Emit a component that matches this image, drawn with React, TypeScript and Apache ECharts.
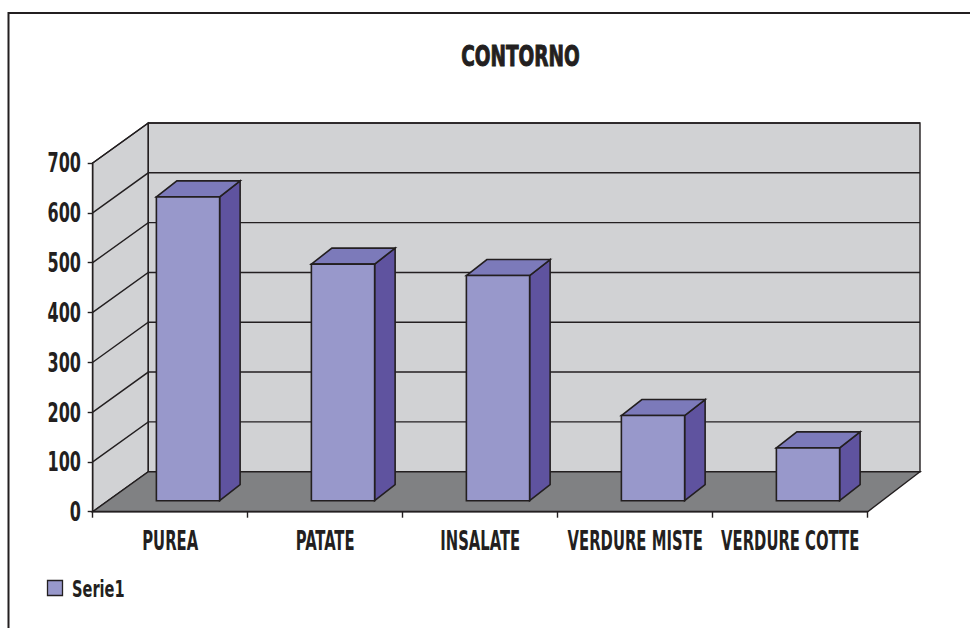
import React, { useEffect, useRef } from "react";
import * as echarts from "echarts";

const chartTitle = "CONTORNO";
const seriesName = "Serie1";
const categories = ["PUREA", "PATATE", "INSALATE", "VERDURE MISTE", "VERDURE COTTE"];
const values = [610, 475, 452, 171, 106];
const yTicks = [0, 100, 200, 300, 400, 500, 600, 700];

const FONT = "'DejaVu Sans Condensed', 'DejaVu Sans', sans-serif";
const INK = "#231F20";
const WALL = "#D1D2D4";
const FLOOR = "#808183";
const BAR_FRONT = "#9898CB";
const BAR_TOP = "#7C7ABA";
const BAR_SIDE = "#5F539F";

const DEPTH_X_LEFT = 55.6;
const DEPTH_X_RIGHT = 52.3;
const DEPTH_Y = -40;
const BAR_OFF_X = 17.8;
const BAR_OFF_Y = -11;
const BAR_DX = 20.5;
const BAR_DY = -16;
const BAR_FRAC = 0.408;

const LABEL_FONT_SIZE = 27;
const LABEL_SCALE = 0.61;
const YLABEL_SCALE = 0.66;

function scaledText(text: string, x: number, y: number, align: string, size: number, scale: number, weight = "bold", extra: any = {}) {
  return {
    type: "text",
    x,
    y,
    scaleX: scale,
    scaleY: 1,
    originX: 0,
    originY: 0,
    style: {
      text,
      x: 0,
      y: 0,
      fontFamily: FONT,
      fontSize: size,
      fontWeight: weight,
      fill: INK,
      align,
      verticalAlign: "middle",
      ...extra,
    },
  };
}

export default function App() {
  const ref = useRef<HTMLDivElement>(null);

  useEffect(() => {
    const chart = echarts.init(ref.current as HTMLDivElement, null, { renderer: "svg" });
    const yMin = yTicks[0];
    const yMax = yTicks[yTicks.length - 1];
    const yStep = yTicks[1] - yTicks[0];

    const wallsRender = (params: any, api: any) => {
      const cs = params.coordSys;
      const x0 = cs.x;
      const x1 = cs.x + cs.width;
      const yBot = api.coord([0, yMin])[1];
      const yTop = api.coord([0, yMax])[1];
      const bl = x0 + DEPTH_X_LEFT;
      const br = x1 + DEPTH_X_RIGHT;
      const stroke = { stroke: INK, lineWidth: 1.4 };
      const children: any[] = [
        {
          type: "polygon",
          shape: { points: [[x0, yTop], [bl, yTop + DEPTH_Y], [bl, yBot + DEPTH_Y], [x0, yBot]] },
          style: { fill: WALL, ...stroke },
        },
        {
          type: "polygon",
          shape: { points: [[bl, yTop + DEPTH_Y], [br, yTop + DEPTH_Y], [br, yBot + DEPTH_Y], [bl, yBot + DEPTH_Y]] },
          style: { fill: WALL, ...stroke },
        },
      ];
      yTicks.forEach((t) => {
        const y = api.coord([0, t])[1];
        if (t !== yMin) {
          children.push({
            type: "polyline",
            shape: { points: [[x0, y], [bl, y + DEPTH_Y], [br, y + DEPTH_Y]] },
            style: { fill: "none", ...stroke },
          });
        }
        children.push(scaledText(String(t), x0 - 11.7, y, "right", LABEL_FONT_SIZE, YLABEL_SCALE));
      });
      children.push({
        type: "polygon",
        shape: { points: [[x0, yBot], [bl, yBot + DEPTH_Y], [br, yBot + DEPTH_Y], [x1, yBot]] },
        style: { fill: FLOOR, ...stroke },
      });
      return { type: "group", children };
    };

    const barRender = (params: any, api: any) => {
      const i = api.value(0);
      const v = api.value(1);
      const base = api.coord([i, 0]);
      const top = api.coord([i, v]);
      const bw = api.size([1, 0])[0] * BAR_FRAC;
      const cx = base[0] + BAR_OFF_X;
      const l = cx - bw / 2;
      const r = cx + bw / 2;
      const yb = base[1] + BAR_OFF_Y;
      const yt = top[1] + BAR_OFF_Y;
      const st = { stroke: INK, lineWidth: 1.6, lineJoin: "miter" };
      return {
        type: "group",
        children: [
          {
            type: "polygon",
            shape: { points: [[r, yt], [r + BAR_DX, yt + BAR_DY], [r + BAR_DX, yb + BAR_DY], [r, yb]] },
            style: { fill: BAR_SIDE, ...st },
          },
          {
            type: "polygon",
            shape: { points: [[l, yt], [l + BAR_DX, yt + BAR_DY], [r + BAR_DX, yt + BAR_DY], [r, yt]] },
            style: { fill: BAR_TOP, ...st },
          },
          {
            type: "polygon",
            shape: { points: [[l, yt], [r, yt], [r, yb], [l, yb]] },
            style: { fill: BAR_FRONT, ...st },
          },
        ],
      };
    };

    const catLabelRender = (params: any, api: any) => {
      const i = api.value(0);
      const p = api.coord([i, 0]);
      return scaledText(categories[i], p[0], p[1] + 28.3, "center", LABEL_FONT_SIZE, LABEL_SCALE);
    };

    chart.setOption({
      animation: false,
      backgroundColor: "#ffffff",
      textStyle: { fontFamily: FONT },
      grid: { left: 92.7, top: 163, width: 775, height: 348.7, containLabel: false },
      xAxis: {
        type: "category",
        data: categories,
        z: 10,
        axisLine: { show: true, lineStyle: { color: INK, width: 1.4 } },
        axisTick: { show: true, length: 6, lineStyle: { color: INK, width: 1.4 } },
        axisLabel: { show: false },
        splitLine: { show: false },
      },
      yAxis: {
        type: "value",
        min: yMin,
        max: yMax,
        interval: yStep,
        z: 10,
        axisLine: { show: true, lineStyle: { color: INK, width: 1.4 } },
        axisTick: { show: true, length: 5, lineStyle: { color: INK, width: 1.4 } },
        axisLabel: { show: false },
        splitLine: { show: false },
      },
      graphic: [
        {
          type: "rect",
          shape: { x: 8.5, y: 13, width: 1000, height: 700 },
          style: { fill: "none", stroke: INK, lineWidth: 2 },
          silent: true,
        },
        {
          type: "text",
          x: 520.5,
          y: 56.5,
          scaleX: 0.71,
          style: {
            text: chartTitle,
            x: 0,
            y: 0,
            fontFamily: FONT,
            fontSize: 29,
            fontWeight: "bold",
            fill: INK,
            stroke: INK,
            lineWidth: 1,
            align: "center",
            verticalAlign: "middle",
          },
        },
        {
          type: "rect",
          shape: { x: 47.5, y: 580.5, width: 15, height: 15 },
          style: { fill: BAR_FRONT, stroke: INK, lineWidth: 1.3 },
        },
        {
          type: "text",
          x: 72,
          y: 588.5,
          scaleX: 0.69,
          style: {
            text: seriesName,
            x: 0,
            y: 0,
            fontFamily: FONT,
            fontSize: 23.5,
            fontWeight: "bold",
            fill: INK,
            align: "left",
            verticalAlign: "middle",
          },
        },
      ],
      series: [
        {
          type: "custom",
          name: "walls",
          silent: true,
          z: 1,
          renderItem: wallsRender,
          data: [[0, 0]],
          encode: { x: 0, y: 1 },
        },
        {
          type: "custom",
          name: seriesName,
          z: 3,
          renderItem: barRender,
          itemStyle: { color: BAR_FRONT, borderColor: INK, borderWidth: 1.3 },
          data: values.map((v, i) => [i, v]),
          encode: { x: 0, y: 1 },
        },
        {
          type: "custom",
          name: "categoryLabels",
          silent: true,
          z: 4,
          clip: false,
          renderItem: catLabelRender,
          data: categories.map((c, i) => [i, 0]),
          encode: { x: 0, y: 1 },
        },
      ],
    });

    return () => chart.dispose();
  }, []);

  return (
    <div
      ref={ref}
      style={{ position: "fixed", left: 0, top: 0, width: 970, height: 628 }}
    />
  );
}
